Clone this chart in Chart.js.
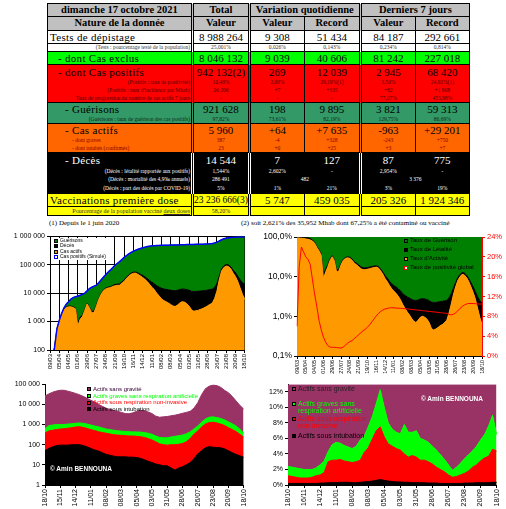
<!DOCTYPE html>
<html lang="fr">
<head>
<meta charset="utf-8">
<title>COVID-19 Maroc - 17 octobre 2021</title>
<script src="https://cdn.jsdelivr.net/npm/chart.js@4.4.0/dist/chart.umd.min.js"></script>
<style>
  html, body { margin: 0; padding: 0; background: #fff; }
  #page { position: relative; width: 506px; height: 509px; overflow: hidden; font-family: "Liberation Sans", Arial, sans-serif; }
  canvas { position: absolute; }

  table { position: absolute; left: 47px; top: 3px; border-collapse: collapse; table-layout: fixed;
          font-family: "Liberation Serif", "Times New Roman", serif; color: #000; }
  td, th { padding: 0; line-height: 1; white-space: nowrap; overflow: visible; text-align: center; vertical-align: middle;
           border-left: 1px solid #000; border-right: 1px solid #000; }
  td.dbl, th.dbl { border-right: 3px double #000; }
  tr.hd { background: #c0c0c0; font-size: 10.5px; }
  tr.hd th { border-top: 1px solid #000; border-bottom: 1px solid #000; }
  tr.m { font-size: 11px; }
  tr.m td { border-top: 1px solid #000; padding-top: 1px; }
  tr.s { font-size: 5.5px; }
  td.lab { text-align: left; padding-left: 2px; letter-spacing: 0.3px; }
  td.ind { padding-left: 10px; }
  td.ind2 { padding-left: 17px; }
  td.sl { text-align: right; padding-right: 1px; }
  .blanc { background: #fff; }
  .blanc.s { color: #333; }
  .exclus { background: #00ff00; }
  .positifs { background: #ff0000; }
  .positifs.s { color: #500000; }
  .gueris { background: #339966; }
  .gueris.s { color: #0c2a1a; }
  .actifs { background: #ff6600; }
  .actifs.s { color: #8a0000; }
  .noir { background: #000; color: #fff; }
  .noir td { border-left-color: #000; border-right-color: #000; }
  .noir td.dbl { border-right-color: #fff; }
  .jaune { background: #ffff00; }
  .jaune.s { color: #333; font-size: 6px; }
  tr.last td { border-bottom: 1px solid #000; }

  .note { position: absolute; font-family: "Liberation Serif", "Times New Roman", serif; font-size: 7px; white-space: nowrap; }

  .leg { position: absolute; white-space: nowrap; }
  .leg .r { display: flex; align-items: center; }
  .mk { display: inline-block; box-sizing: border-box; border: 1px solid #000; margin-right: 2px; flex: none; width: 4px; height: 4px; }
  .abs { position: absolute; white-space: nowrap; display: flex; align-items: center; }
  .copy { position: absolute; color: #fff; font-weight: bold; font-size: 6.5px; white-space: nowrap; }
</style>
</head>
<body>
<div id="page">

<table>
  <colgroup><col style="width:145px"><col style="width:55px"><col style="width:55px"><col style="width:56px"><col style="width:55px"><col style="width:54px"></colgroup>
  <tr class="hd" style="height:13px"><th class="dbl">dimanche 17 octobre 2021</th><th class="dbl">Total</th><th colspan="2" class="dbl">Variation quotidienne</th><th colspan="2">Derniers 7 jours</th></tr>
  <tr class="hd" style="height:14px"><th class="dbl">Nature de la donnée</th><th class="dbl">Valeur</th><th>Valeur</th><th class="dbl">Record</th><th>Valeur</th><th>Record</th></tr>

  <tr class="m blanc" style="height:13px"><td class="lab dbl">Tests de dépistage</td><td class="dbl">8 988 264</td><td>9 308</td><td class="dbl">51 434</td><td>84 187</td><td>292 661</td></tr>
  <tr class="s blanc" style="height:8px"><td class="sl dbl" style="border-top:1px solid #000">(Tests : pourcentage testé de la population)</td><td class="dbl" style="border-top:1px solid #000">25,001%</td><td style="border-top:1px solid #000">0,026%</td><td class="dbl" style="border-top:1px solid #000">0,143%</td><td style="border-top:1px solid #000">0,234%</td><td style="border-top:1px solid #000">0,814%</td></tr>

  <tr class="m exclus" style="height:13px"><td class="lab ind dbl">- dont Cas exclus</td><td class="dbl">8 046 132</td><td>9 039</td><td class="dbl">40 606</td><td>81 242</td><td>227 018</td></tr>

  <tr class="m positifs" style="height:14px"><td class="lab ind dbl">- dont Cas positifs</td><td class="dbl">942 132(2)</td><td>269</td><td class="dbl">12 039</td><td>2 945</td><td>68 420</td></tr>
  <tr class="s positifs" style="height:8px"><td class="sl dbl">(Positifs : taux de positivité)</td><td class="dbl">10,48%</td><td>2,89%</td><td class="dbl">29,19%(1)</td><td>3,50%</td><td>24,92%(1)</td></tr>
  <tr class="s positifs" style="height:8px"><td class="sl dbl">(Positifs : taux d'incidence par Mhab)</td><td class="dbl">26 206</td><td>+7</td><td class="dbl">+335</td><td>+82</td><td>+1 908</td></tr>
  <tr class="s positifs" style="height:8px"><td class="sl dbl">Taux de progression du nombre de cas actifs 7 jours</td><td class="dbl">-</td><td>-</td><td class="dbl">-</td><td>77,07%</td><td>455,98%</td></tr>

  <tr class="m gueris" style="height:13px"><td class="lab ind2 dbl">- Guérisons</td><td class="dbl">921 628</td><td>198</td><td class="dbl">9 895</td><td>3 821</td><td>59 313</td></tr>
  <tr class="s gueris" style="height:8px"><td class="sl dbl">(Guérisons : taux de guérison des cas positifs)</td><td class="dbl">97,82%</td><td>73,61%</td><td class="dbl">82,19%</td><td>129,75%</td><td>86,69%</td></tr>

  <tr class="m actifs" style="height:13px"><td class="lab ind2 dbl">- Cas actifs</td><td class="dbl">5 960</td><td>+64</td><td class="dbl">+7 635</td><td>-963</td><td>+29 201</td></tr>
  <tr class="s actifs" style="height:8px"><td class="lab dbl" style="padding-left:24px;letter-spacing:0">- dont graves</td><td class="dbl">387</td><td>-4</td><td class="dbl">+328</td><td>-243</td><td>+750</td></tr>
  <tr class="s actifs" style="height:8px"><td class="lab dbl" style="padding-left:24px;letter-spacing:0">- dont intubés (confirmés)</td><td class="dbl">23</td><td>+0</td><td class="dbl">+25</td><td>+3</td><td>+7</td></tr>

  <tr class="m noir" style="height:15px"><td class="lab ind2 dbl">- Décès</td><td class="dbl">14 544</td><td>7</td><td class="dbl">127</td><td>87</td><td>775</td></tr>
  <tr class="s noir" style="height:8px"><td class="sl dbl">(Décès : létalité rapportée aux positifs)</td><td class="dbl">1,544%</td><td>2,602%</td><td class="dbl">-</td><td>2,954%</td><td>-</td></tr>
  <tr class="s noir" style="height:9px"><td class="sl dbl">(Décès : mortalité des 4,9‰ annuels)</td><td class="dbl">286 491</td><td colspan="2" class="dbl">482</td><td colspan="2">3 376</td></tr>
  <tr class="s noir" style="height:9px"><td class="sl dbl">(Décès : part des décès par COVID-19)</td><td class="dbl">5%</td><td>1%</td><td class="dbl">21%</td><td>3%</td><td>19%</td></tr>

  <tr class="m jaune" style="height:13px"><td class="lab dbl">Vaccinations première dose</td><td class="dbl" style="font-size:9.5px">23 236 666(3)</td><td>5 747</td><td class="dbl">459 035</td><td>205 326</td><td>1 924 346</td></tr>
  <tr class="s jaune last" style="height:9px"><td class="sl dbl" style="border-top:1px solid #000">Pourcentage de la population vacciné <u>deux doses</u></td><td class="dbl" style="border-top:1px solid #000">58,20%</td><td style="border-top:1px solid #000"></td><td class="dbl" style="border-top:1px solid #000"></td><td style="border-top:1px solid #000"></td><td style="border-top:1px solid #000"></td></tr>
</table>

<div class="note" style="left:49px;top:219px">(1) Depuis le 1 juin 2020</div>
<div class="note" style="left:241px;top:219px">(2) soit 2,621% des 35,952 Mhab dont 67,25% a été contaminé ou vacciné</div>

<canvas id="c1" width="253" height="145" style="left:0;top:230px"></canvas>
<canvas id="c2" width="253" height="148" style="left:253px;top:230px"></canvas>
<canvas id="c3" width="253" height="131" style="left:0;top:378px"></canvas>
<canvas id="c4" width="253" height="131" style="left:253px;top:378px"></canvas>

<div class="leg" style="left:54px;top:238px;width:60px;height:22px;background:#fff;font-size:5px;line-height:5.4px">
  <div class="r"><span class="mk" style="background:#008000"></span>Guérisons</div>
  <div class="r"><span class="mk" style="background:#000"></span>Décès</div>
  <div class="r"><span class="mk" style="background:#ff9900"></span>Cas actifs</div>
  <div class="r"><span class="mk" style="background:#fff;border-color:#0000ff"></span>Cas positifs (Simulé)</div>
</div>

<div class="leg" style="left:404px;top:236px;font-size:6px;line-height:9px">
  <div class="r"><span class="mk" style="background:#008000"></span>Taux de Guérison</div>
  <div class="r"><span class="mk" style="background:#000"></span>Taux de Létalité</div>
  <div class="r"><span class="mk" style="background:#ff9900"></span>Taux d'Activité</div>
  <div class="r"><span class="mk" style="background:#fff;border-color:#ff0000"></span>Taux de positivité global</div>
</div>

<div class="leg" style="left:87px;top:386px;font-size:6px;line-height:6.7px">
  <div class="r" style="color:#330033"><span class="mk" style="background:#993366"></span>Actifs sans gravité</div>
  <div class="r" style="color:#00ff00"><span class="mk" style="background:#00ff00"></span>Actifs graves sans respiration artificielle</div>
  <div class="r" style="color:#ff0000"><span class="mk" style="background:#ff0000"></span>Actifs sous respiration non-invasive</div>
  <div class="r" style="color:#000"><span class="mk" style="background:#000"></span>Actifs sous intubation</div>
</div>
<div class="copy" style="left:50px;top:465px">© Amin BENNOUNA</div>

<div style="font-size:7px;line-height:7px">
  <div class="abs" style="left:292px;top:385px;color:#222"><span class="mk" style="background:#993366"></span>Actifs sans gravité</div>
  <div class="abs" style="left:292px;top:400px;color:#00ff00"><span class="mk" style="background:#00ff00"></span>Actifs graves sans</div>
  <div class="abs" style="left:298px;top:407px;color:#00ff00">respiration artificielle</div>
  <div class="abs" style="left:292px;top:415px;color:#ff0000"><span class="mk" style="background:#ff0000"></span>Actifs sous respiration</div>
  <div class="abs" style="left:298px;top:422px;color:#ff0000">non-invasive</div>
  <div class="abs" style="left:292px;top:432px;color:#000"><span class="mk" style="background:#000"></span>Actifs sous intubation</div>
</div>
<div class="copy" style="left:421px;top:395px">© Amin BENNOUNA</div>

</div>

<script>
// Etiquettes des axes
const ticks1 = ['09/03', '05/04', '04/05', '01/06', '29/06', '27/07', '24/08', '21/09', '19/10', '16/11', '14/12',
                '11/01', '08/02', '08/03', '05/04', '03/05', '31/05', '28/06', '26/07', '23/08', '20/09', '18/10'];
const ticks3 = ['18/10', '15/11', '14/12', '11/01', '08/02', '08/03', '05/04', '03/05', '31/05', '28/06', '26/07', '23/08', '20/09', '18/10'];
const ticks4 = ['18/10', '16/11', '14/12', '11/01', '08/02', '08/03', '05/04', '03/05', '31/05', '28/06', '26/07', '23/08', '20/09', '18/10'];
const yTicks1 = [100, 1000, 10000, 100000, 1000000];
const yTicks2 = [0.1, 1, 10, 100];
const yTicks2r = [0, 2, 4, 6, 8, 10, 12, 14, 16, 18, 20, 22, 24];
const yTicks3 = [1, 10, 100, 1000, 10000, 100000];
const yTicks4 = [0, 2, 4, 6, 8, 10, 12];

// Graphique 1 : valeurs hebdomadaires depuis le 09/03/2020
const positifs = [25, 40, 130, 560, 1100, 1900, 3000, 4100, 5000, 6200, 6900, 7500,
  7800, 8400, 9000, 10000, 12000, 14500, 16000, 17500, 19000, 23000, 29000, 36000,
  44000, 54000, 64000, 78000, 95000, 110000, 128000, 150000, 180000, 210000, 240000, 268000,
  300000, 325000, 348000, 370000, 390000, 412000, 432000, 447000, 458000, 465000, 470000, 473000,
  476000, 479000, 481000, 483000, 486000, 489000, 492000, 495000, 498000, 502000, 505000, 508000,
  511000, 513000, 515000, 517000, 519000, 521000, 524000, 527000, 532000, 540000, 555000, 580000,
  620000, 680000, 750000, 810000, 850000, 880000, 900000, 914000, 924000, 931000, 936000, 940000, 942132];
const actifs = [24, 38, 125, 480, 950, 1600, 2600, 3100, 3300, 3300, 3100, 2800,
  700, 1200, 1500, 2500, 4200, 3000, 2000, 2100, 3500, 6000, 9000, 12000,
  14000, 15000, 15500, 17000, 18000, 18500, 19000, 22000, 26000, 33000, 40000, 46000,
  50000, 50000, 45000, 40000, 35000, 30000, 25000, 20000, 16000, 13000, 10000, 8000,
  6500, 5500, 5000, 4500, 4000, 3500, 3400, 3800, 4500, 5000, 4800, 4200,
  3500, 2600, 2300, 2400, 2500, 2700, 2900, 3200, 3600, 4000, 4500, 6500,
  12000, 30000, 60000, 80000, 90000, 85000, 70000, 50000, 38000, 25000, 15000, 9000, 5960];
const deces = [1, 1, 4, 36, 90, 130, 145, 165, 180, 188, 192, 200,
  205, 210, 212, 214, 225, 240, 255, 280, 330, 400, 520, 730,
  920, 1140, 1320, 1610, 1900, 2120, 2370, 2660, 2900, 3450, 3990, 4450,
  4900, 5400, 5800, 6200, 6620, 6950, 7250, 7600, 7900, 8100, 8300, 8400,
  8450, 8500, 8550, 8620, 8680, 8730, 8780, 8840, 8900, 8950, 8990, 9030,
  9070, 9100, 9130, 9150, 9170, 9190, 9210, 9240, 9260, 9290, 9360, 9460,
  9650, 10000, 10600, 11300, 11900, 12600, 13200, 13600, 14000, 14200, 14350, 14460, 14544];

// Graphique 2 : taux en %
const activite = [95, 95, 93, 92, 90, 88, 85, 80, 70, 55, 45, 35,
  9, 13, 18, 26, 32, 25, 13, 14, 20, 26, 29, 30,
  29, 26, 22, 20, 18, 16, 15, 15, 15.5, 16, 16.5, 17,
  17.5, 16.5, 14, 11.5, 9, 7.5, 6, 5, 4.3, 3.8, 3.2, 2.6,
  2, 1.6, 1.3, 1.1, 0.9, 0.75, 0.7, 0.8, 0.95, 1.0, 0.95, 0.85,
  0.7, 0.5, 0.45, 0.48, 0.52, 0.58, 0.62, 0.7, 0.8, 1.2, 2.0, 3.5,
  5.5, 8, 10, 11.5, 11, 9.5, 7.5, 5.5, 4, 2.7, 1.6, 0.95, 0.63];
const letalite = [3, 3, 4, 5, 7, 8, 8, 5, 4, 3, 3, 3,
  2.6, 2.5, 2.3, 2.2, 1.9, 1.7, 1.6, 1.6, 1.7, 1.6, 1.6, 1.8,
  2.1, 2.1, 2, 2, 2, 1.9, 1.9, 1.8, 1.7, 1.6, 1.6, 1.7,
  1.5, 1.5, 1.6, 1.6, 1.7, 1.7, 1.7, 1.7, 1.7, 1.7, 1.8, 1.8,
  1.8, 1.8, 1.8, 1.8, 1.8, 1.8, 1.8, 1.8, 1.8, 1.8, 1.8, 1.8,
  1.8, 1.8, 1.8, 1.77, 1.77, 1.77, 1.77, 1.76, 1.75, 1.72, 1.7, 1.65,
  1.6, 1.5, 1.45, 1.4, 1.4, 1.43, 1.47, 1.5, 1.52, 1.53, 1.53, 1.54, 1.54];
const positivite = [6, 18, 22, 21, 20, 19.5, 18.5, 15.5, 12.5, 10, 7.2, 5.3,
  3.8, 2.8, 2.1, 1.8, 1.75, 1.75, 1.7, 1.65, 1.6, 1.8, 2.2, 2.6,
  2.9, 3.1, 3.5, 3.9, 4.3, 4.7, 5.1, 5.4, 5.8, 6.3, 6.9, 7.5,
  8.1, 8.6, 9.0, 9.3, 9.5, 9.6, 9.7, 9.75, 9.7, 9.68, 9.65, 9.62,
  9.6, 9.55, 9.5, 9.45, 9.4, 9.35, 9.3, 9.25, 9.2, 9.15, 9.1, 9.05,
  9.0, 8.95, 8.9, 8.85, 8.8, 8.75, 8.7, 8.65, 8.6, 8.4, 8.3, 8.4,
  8.7, 9.1, 9.6, 10.0, 10.3, 10.5, 10.6, 10.6, 10.6, 10.55, 10.5, 10.5, 10.48];

// Graphique 3 : cas actifs par gravité depuis le 18/10/2020 (hauts de bande)
const graves = [630, 870, 950, 1000, 1000, 1000, 1050, 1100, 1150, 1200, 1150, 1050,
  950, 850, 770, 680, 600, 560, 520, 490, 470, 450, 440, 430,
  430, 420, 400, 370, 330, 270, 230, 220, 220, 240, 260, 280,
  300, 350, 430, 600, 850, 1300, 1900, 2300, 2400, 2200, 2000, 1700,
  1350, 1100, 850, 600, 380];
const sousRespiration = [380, 480, 520, 560, 600, 620, 650, 700, 750, 780, 720, 640,
  560, 500, 440, 400, 370, 340, 310, 300, 290, 280, 270, 270,
  260, 250, 230, 200, 170, 140, 110, 100, 95, 100, 100, 105,
  115, 140, 200, 330, 480, 750, 1050, 1250, 1300, 1200, 1050, 900,
  700, 560, 450, 330, 240];
const intubes = [50, 65, 78, 90, 95, 95, 95, 100, 100, 100, 90, 78,
  65, 55, 48, 40, 33, 30, 27, 25, 25, 25, 24, 24,
  23, 21, 18, 15, 13, 11, 10, 9, 9, 7, 5.5, 7,
  8, 10, 13, 20, 35, 50, 70, 80, 75, 72, 70, 62,
  50, 40, 33, 28, 24];

// Graphique 4 : même chose en % des cas actifs
const gravesPct = [2.4, 2.3, 2.2, 2.1, 2.0, 2.0, 2.0, 2.2, 2.6, 3.1, 4.3, 5.2,
  5.5, 5.4, 5.1, 4.9, 4.7, 5.0, 5.8, 6.3, 7.5, 8.8, 10.5, 12.3,
  10.0, 8.0, 7.2, 6.8, 6.6, 7.8, 6.8, 6.8, 7.0, 6.0, 5.8, 5.5,
  5.0, 4.5, 3.9, 3.3, 2.6, 1.9, 2.3, 2.8, 3.4, 3.9, 4.4, 5.0,
  5.8, 6.5, 7.6, 9.0, 6.5];
const respirationPct = [1.2, 1.1, 1.0, 0.9, 0.9, 0.9, 1.0, 1.2, 1.3, 1.6, 3.0, 3.2,
  3.2, 3.3, 3.1, 3.0, 2.9, 3.0, 3.2, 4.2, 4.8, 5.9, 7.0, 7.5,
  6.2, 5.3, 5.0, 4.7, 4.5, 4.0, 3.6, 3.8, 3.6, 3.2, 3.2, 3.0,
  2.7, 2.3, 2.0, 1.7, 1.3, 1.0, 1.1, 1.3, 1.5, 1.8, 2.3, 2.6,
  3.1, 3.5, 3.7, 4.6, 4.4];
const intubesPct = [0.2, 0.2, 0.2, 0.2, 0.2, 0.2, 0.2, 0.2, 0.25, 0.25, 0.3, 0.3,
  0.3, 0.35, 0.35, 0.35, 0.3, 0.3, 0.35, 0.4, 0.45, 0.5, 0.6, 0.7,
  0.6, 0.5, 0.45, 0.4, 0.4, 0.35, 0.35, 0.3, 0.3, 0.3, 0.3, 0.25,
  0.25, 0.25, 0.2, 0.2, 0.2, 0.2, 0.2, 0.2, 0.25, 0.25, 0.25, 0.3,
  0.3, 0.3, 0.3, 0.35, 0.35];

const ORANGE = '#ff9900';
const VERT = '#008000';
const PRUNE = '#993366';

Chart.defaults.font.family = '"Liberation Sans", Arial, sans-serif';
Chart.defaults.color = '#000';

const espaces = v => String(v).replace(/\B(?=(\d{3})+(?!\d))/g, ' ');
// une étiquette toutes les 4 semaines
const cats1 = positifs.map((_, i) => i % 4 === 0 ? ticks1[i / 4] : '');
const cats3 = graves.map((_, i) => i % 4 === 0 ? ticks3[i / 4] : '');
const cats4 = gravesPct.map((_, i) => i % 4 === 0 ? ticks4[i / 4] : '');
const gueris = positifs.map((p, i) => Math.max(0, p - actifs[i] - deces[i]));
const guerison = activite.map((a, i) => 100 - a - letalite[i]);

function base(padding) {
    return {
        responsive: false,
        animation: false,
        devicePixelRatio: 1,
        layout: { padding: padding },
        plugins: { legend: { display: false }, tooltip: { enabled: false } },
        elements: { point: { radius: 0 }, line: { tension: 0, borderWidth: 1 } }
    };
}

function axeX(size, hauteur, grille) {
    return {
        ticks: { autoSkip: false, minRotation: 90, maxRotation: 90, padding: 1, font: { size: size } },
        grid: {
            drawOnChartArea: grille,
            color: ctx => ctx.index % 4 === 0 ? '#000' : 'rgba(0,0,0,0)',
            tickLength: 3
        },
        border: { color: '#000' },
        afterFit: s => { s.height = hauteur; }
    };
}

function serie(label, data, couleur, fill, extra) {
    return Object.assign({ label: label, data: data, borderColor: couleur, backgroundColor: couleur, fill: fill }, extra || {});
}

// 1 - cumul des cas (échelle log)
new Chart(document.getElementById('c1'), {
    type: 'line',
    data: {
        labels: cats1,
        datasets: [
            serie('Cas actifs', actifs, ORANGE, 'origin', { stack: 'cas' }),
            serie('Décès', deces, '#000', '-1', { stack: 'cas' }),
            serie('Guérisons', gueris, VERT, '-1', { stack: 'cas' }),
            serie('Cas positifs (Simulé)', positifs, '#0000ff', false, { stack: 'simule', borderWidth: 1.5, order: -1 })
        ]
    },
    options: Object.assign(base({ top: 5, right: 4, left: 0, bottom: 0 }), {
        scales: {
            x: axeX(6, 25, true),
            y: {
                type: 'logarithmic', stacked: true, min: 100, max: 1000000,
                afterBuildTicks: s => { s.ticks = yTicks1.map(v => ({ value: v })); },
                ticks: { callback: v => espaces(v), font: { size: 7 }, padding: 2 },
                grid: { color: '#000', tickLength: 3 },
                border: { color: '#000' },
                afterFit: s => { s.width = 50; }
            }
        }
    })
});

// 2 - taux (log) et taux de positivité (axe droit)
new Chart(document.getElementById('c2'), {
    type: 'line',
    data: {
        labels: cats1,
        datasets: [
            serie("Taux d'Activité", activite, ORANGE, 'origin', { stack: 'taux' }),
            serie('Taux de Létalité', letalite, '#000', '-1', { stack: 'taux' }),
            serie('Taux de Guérison', guerison, VERT, '-1', { stack: 'taux' }),
            serie('Taux de positivité global', positivite, '#ff0000', false, { yAxisID: 'y2', order: -1 })
        ]
    },
    options: Object.assign(base({ top: 5, right: 0, left: 0, bottom: 0 }), {
        scales: {
            x: axeX(5.5, 22, false),
            y: {
                type: 'logarithmic', stacked: true, min: 0.1, max: 100,
                afterBuildTicks: s => { s.ticks = yTicks2.map(v => ({ value: v })); },
                ticks: { callback: v => v.toFixed(1).replace('.', ',') + '%', font: { size: 8.5 }, padding: 2 },
                grid: { drawOnChartArea: false, color: '#000', tickLength: 3 },
                border: { color: '#000' },
                afterFit: s => { s.width = 44; }
            },
            y2: {
                position: 'right', min: 0, max: 24,
                afterBuildTicks: s => { s.ticks = yTicks2r.map(v => ({ value: v })); },
                ticks: { callback: v => v + '%', color: '#ff0000', font: { size: 7.5 }, padding: 2 },
                grid: { drawOnChartArea: false, color: '#ff0000', tickLength: 3 },
                border: { color: '#ff0000' },
                afterFit: s => { s.width = 24; }
            }
        }
    })
});

// 3 - cas actifs par gravité (log)
new Chart(document.getElementById('c3'), {
    type: 'line',
    data: {
        labels: cats3,
        datasets: [
            serie('Actifs sous intubation', intubes, '#000', 'origin'),
            serie('Actifs sous respiration non-invasive', sousRespiration, '#ff0000', 'origin'),
            serie('Actifs graves sans respiration artificielle', graves, '#00ff00', 'origin'),
            serie('Actifs sans gravité', actifs.slice(32), PRUNE, 'origin')
        ]
    },
    options: Object.assign(base({ top: 6, right: 4, left: 0, bottom: 0 }), {
        scales: {
            x: axeX(7, 24, false),
            y: {
                type: 'logarithmic', min: 1, max: 100000,
                afterBuildTicks: s => { s.ticks = yTicks3.map(v => ({ value: v })); },
                ticks: { callback: v => espaces(v), font: { size: 7 }, padding: 2 },
                grid: { drawOnChartArea: false, color: '#000', tickLength: 3 },
                border: { color: '#000' },
                afterFit: s => { s.width = 45; }
            }
        }
    })
});

// 4 - part des cas actifs par gravité (%)
new Chart(document.getElementById('c4'), {
    type: 'line',
    data: {
        labels: cats4,
        datasets: [
            serie('Actifs sous intubation', intubesPct, '#000', 'origin'),
            serie('Actifs sous respiration non-invasive', respirationPct, '#ff0000', 'origin'),
            serie('Actifs graves sans respiration artificielle', gravesPct, '#00ff00', 'origin'),
            serie('Actifs sans gravité', gravesPct, PRUNE, 'end', { borderWidth: 0 })
        ]
    },
    options: Object.assign(base({ top: 5, right: 9, left: 0, bottom: 0 }), {
        scales: {
            x: axeX(7, 24, false),
            y: {
                min: 0, max: 13,
                afterBuildTicks: s => { s.ticks = yTicks4.map(v => ({ value: v })); },
                ticks: { callback: v => v + '%', font: { size: 7 }, padding: 2 },
                grid: { drawOnChartArea: false, color: '#000', tickLength: 3 },
                border: { color: '#000' },
                afterFit: s => { s.width = 35; }
            }
        }
    })
});
</script>
</body>
</html>
